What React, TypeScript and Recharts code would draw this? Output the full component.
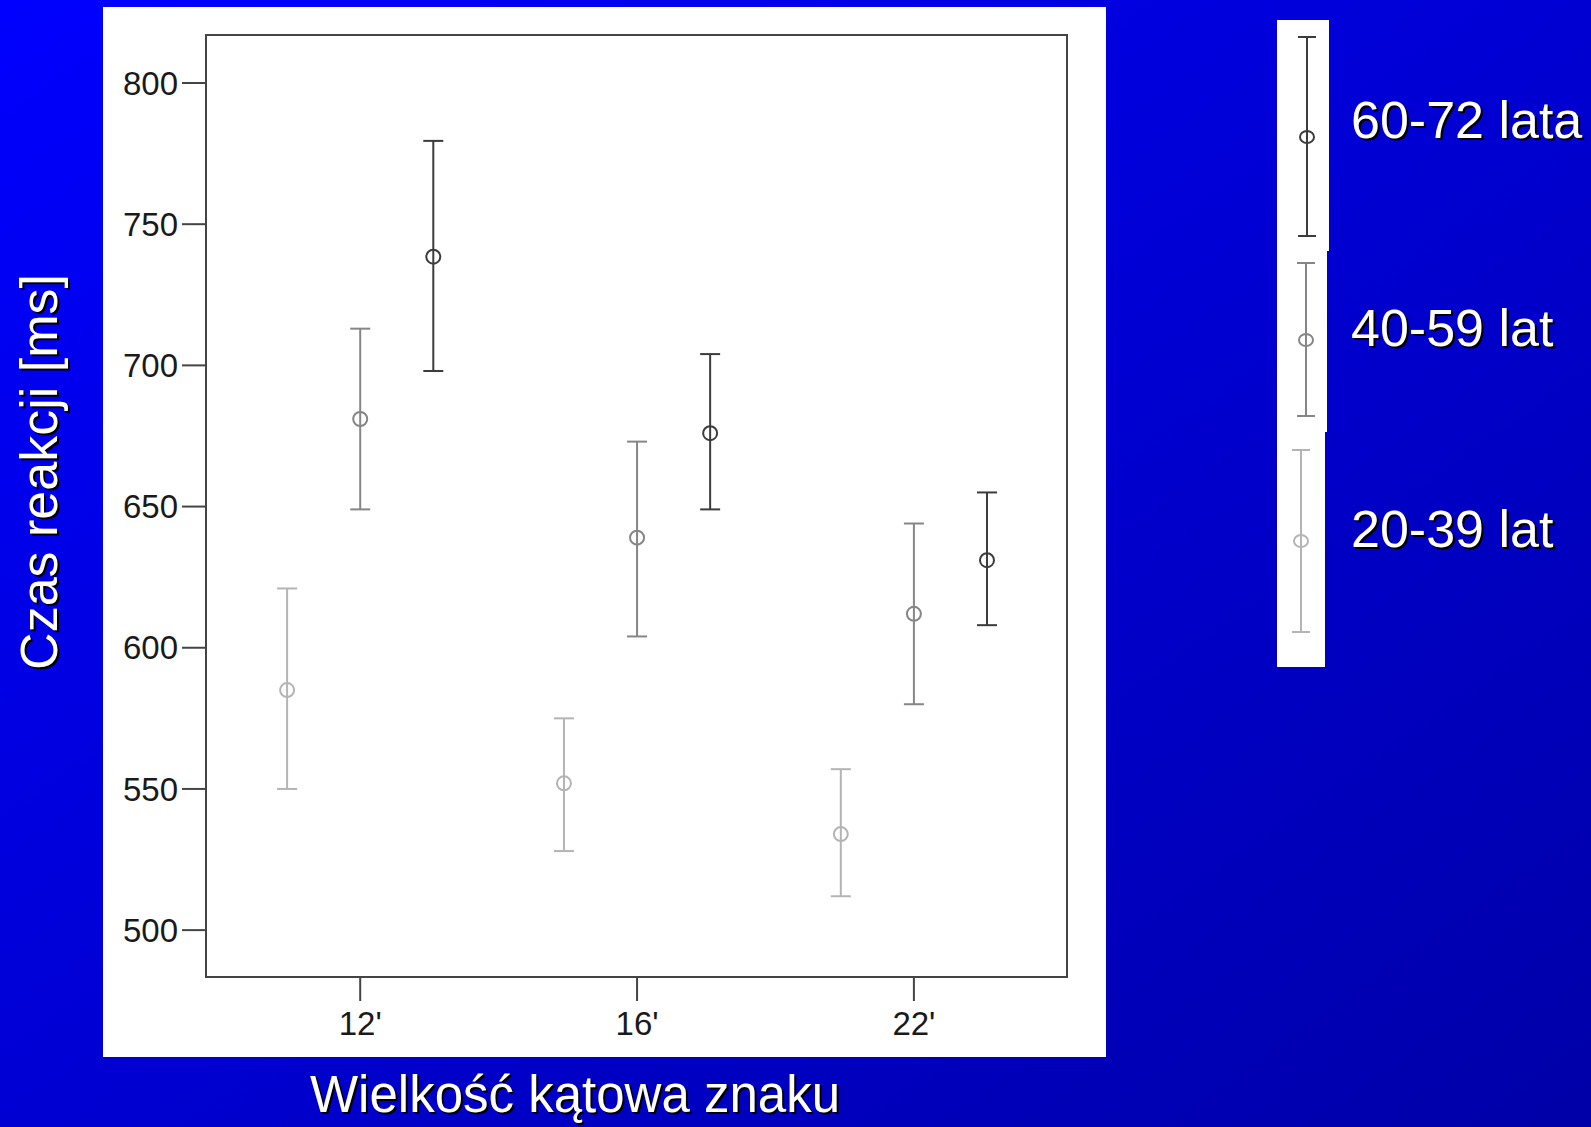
import { ErrorBar, ReferenceArea, Scatter, ScatterChart, XAxis, YAxis } from "recharts";

// x categories (angular size of the sign)
const categories = ["12'", "16'", "22'"];

// age groups, left to right inside each category
const groups = ["20-39 lat", "40-59 lat", "60-72 lata"];
const groupColors = ["#b4b4b4", "#868686", "#3c3c3c"];
const groupOffsets = [-0.264, 0, 0.264];

// reaction time [ms]: means and the ends of the error bars
const mean20 = [585, 552, 534];
const low20 = [550, 528, 512];
const high20 = [621, 575, 557];

const mean40 = [681, 639, 612];
const low40 = [649, 604, 580];
const high40 = [713, 673, 644];

const mean60 = [738.5, 676, 631];
const low60 = [698, 649, 608];
const high60 = [779.5, 704, 655];

const yTicks = [500, 550, 600, 650, 700, 750, 800];
const xDomain = [-0.557, 2.553];
const yDomain = [483.4, 817];

const means = [mean20, mean40, mean60];
const lows = [low20, low40, low60];
const highs = [high20, high40, high60];

const series = groups.map((name, g) => ({
  name,
  color: groupColors[g],
  rows: categories.map((_, i) => ({
    x: i + groupOffsets[g],
    y: means[g][i],
    err: [means[g][i] - lows[g][i], highs[g][i] - means[g][i]],
  })),
}));

const FONT = "'Liberation Sans', Arial, sans-serif";
const AXIS = "#444444";

function Ring(props: any) {
  const { cx, cy, fill } = props;
  return <circle cx={cx} cy={cy} r={7} fill="none" stroke={fill} strokeWidth={2} />;
}

function ShadowText({ x, y, rotate, size, children, anchor = "start" }: any) {
  const t = rotate ? `rotate(${rotate} ${x} ${y})` : undefined;
  return (
    <g fontFamily={FONT} fontSize={size} textAnchor={anchor}>
      <text x={x + 2} y={y + 2} transform={rotate ? `rotate(${rotate} ${x + 2} ${y + 2})` : undefined} fill="#000">
        {children}
      </text>
      <text x={x} y={y} transform={t} fill="#fff">
        {children}
      </text>
    </g>
  );
}

// legend boxes on the right, top = oldest group
const legendBoxes = [
  { g: 2, x: 1277, y: 20, w: 52, h: 231, lx: 1307, top: 37, bot: 236, mid: 137, ty: 138 },
  { g: 1, x: 1277, y: 251, w: 50, h: 181, lx: 1306, top: 263, bot: 416, mid: 340, ty: 346 },
  { g: 0, x: 1277, y: 432, w: 48, h: 235, lx: 1301, top: 450, bot: 632, mid: 541, ty: 547 },
];

function LegendPanel() {
  return (
    <svg
      width={1591}
      height={1127}
      style={{ position: "absolute", left: 0, top: 0, pointerEvents: "none" }}
    >
      {legendBoxes.map((b) => {
        const c = groupColors[b.g];
        return (
          <g key={b.g}>
            <rect x={b.x} y={b.y} width={b.w} height={b.h} fill="#fff" />
            <line x1={b.lx} x2={b.lx} y1={b.top} y2={b.bot} stroke={c} strokeWidth={2} />
            <line x1={b.lx - 9} x2={b.lx + 9} y1={b.top} y2={b.top} stroke={c} strokeWidth={2} />
            <line x1={b.lx - 9} x2={b.lx + 9} y1={b.bot} y2={b.bot} stroke={c} strokeWidth={2} />
            <ellipse cx={b.lx} cy={b.mid} rx={7} ry={6} fill="none" stroke={c} strokeWidth={2} />
            <ShadowText x={1351} y={b.ty} size={52}>
              {groups[b.g]}
            </ShadowText>
          </g>
        );
      })}
      <ShadowText x={575} y={1112} size={51} anchor="middle">
        Wielkość kątowa znaku
      </ShadowText>
      <ShadowText x={57} y={472} size={52} anchor="middle" rotate={-90}>
        Czas reakcji [ms]
      </ShadowText>
    </svg>
  );
}

export default function App() {
  return (
    <div
      style={{
        position: "relative",
        width: 1591,
        height: 1127,
        overflow: "hidden",
        background: "linear-gradient(to bottom right, #0000ff 0%, #0000a8 100%)",
      }}
    >
      <style>{`body{margin:0}`}</style>
      <div
        style={{ position: "absolute", left: 103, top: 7, width: 1003, height: 1050, background: "#fff" }}
      />
      <div style={{ position: "absolute", left: 0, top: 0 }}>
        <ScatterChart
          width={1591}
          height={1127}
          margin={{ top: 35, right: 524, bottom: 50, left: 106 }}
        >
          <XAxis
            dataKey="x"
            type="number"
            domain={xDomain}
            ticks={[0, 1, 2]}
            tickFormatter={(v: number) => categories[v]}
            height={100}
            tickSize={24}
            tickMargin={11}
            axisLine={{ stroke: AXIS, strokeWidth: 2 }}
            tickLine={{ stroke: AXIS, strokeWidth: 2 }}
            tick={{ fontSize: 33, fill: "#1a1a1a", fontFamily: FONT }}
            allowDataOverflow
          />
          <YAxis
            dataKey="y"
            type="number"
            domain={yDomain}
            ticks={yTicks}
            width={100}
            tickSize={24}
            tickMargin={4}
            axisLine={{ stroke: AXIS, strokeWidth: 2 }}
            tickLine={{ stroke: AXIS, strokeWidth: 2 }}
            tick={{ fontSize: 33, fill: "#1a1a1a", fontFamily: FONT }}
            allowDataOverflow
          />
          <ReferenceArea
            x1={xDomain[0]}
            x2={xDomain[1]}
            y1={yDomain[0]}
            y2={yDomain[1]}
            fill="none"
            fillOpacity={0}
            stroke={AXIS}
            strokeWidth={2}
            ifOverflow="visible"
          />
          {series.map((s) => (
            <Scatter
              key={s.name}
              name={s.name}
              data={s.rows}
              fill={s.color}
              shape={Ring}
              isAnimationActive={false}
            >
              <ErrorBar
                dataKey="err"
                direction="y"
                width={10}
                stroke={s.color}
                strokeWidth={2}
                isAnimationActive={false}
              />
            </Scatter>
          ))}
        </ScatterChart>
      </div>
      <LegendPanel />
    </div>
  );
}
